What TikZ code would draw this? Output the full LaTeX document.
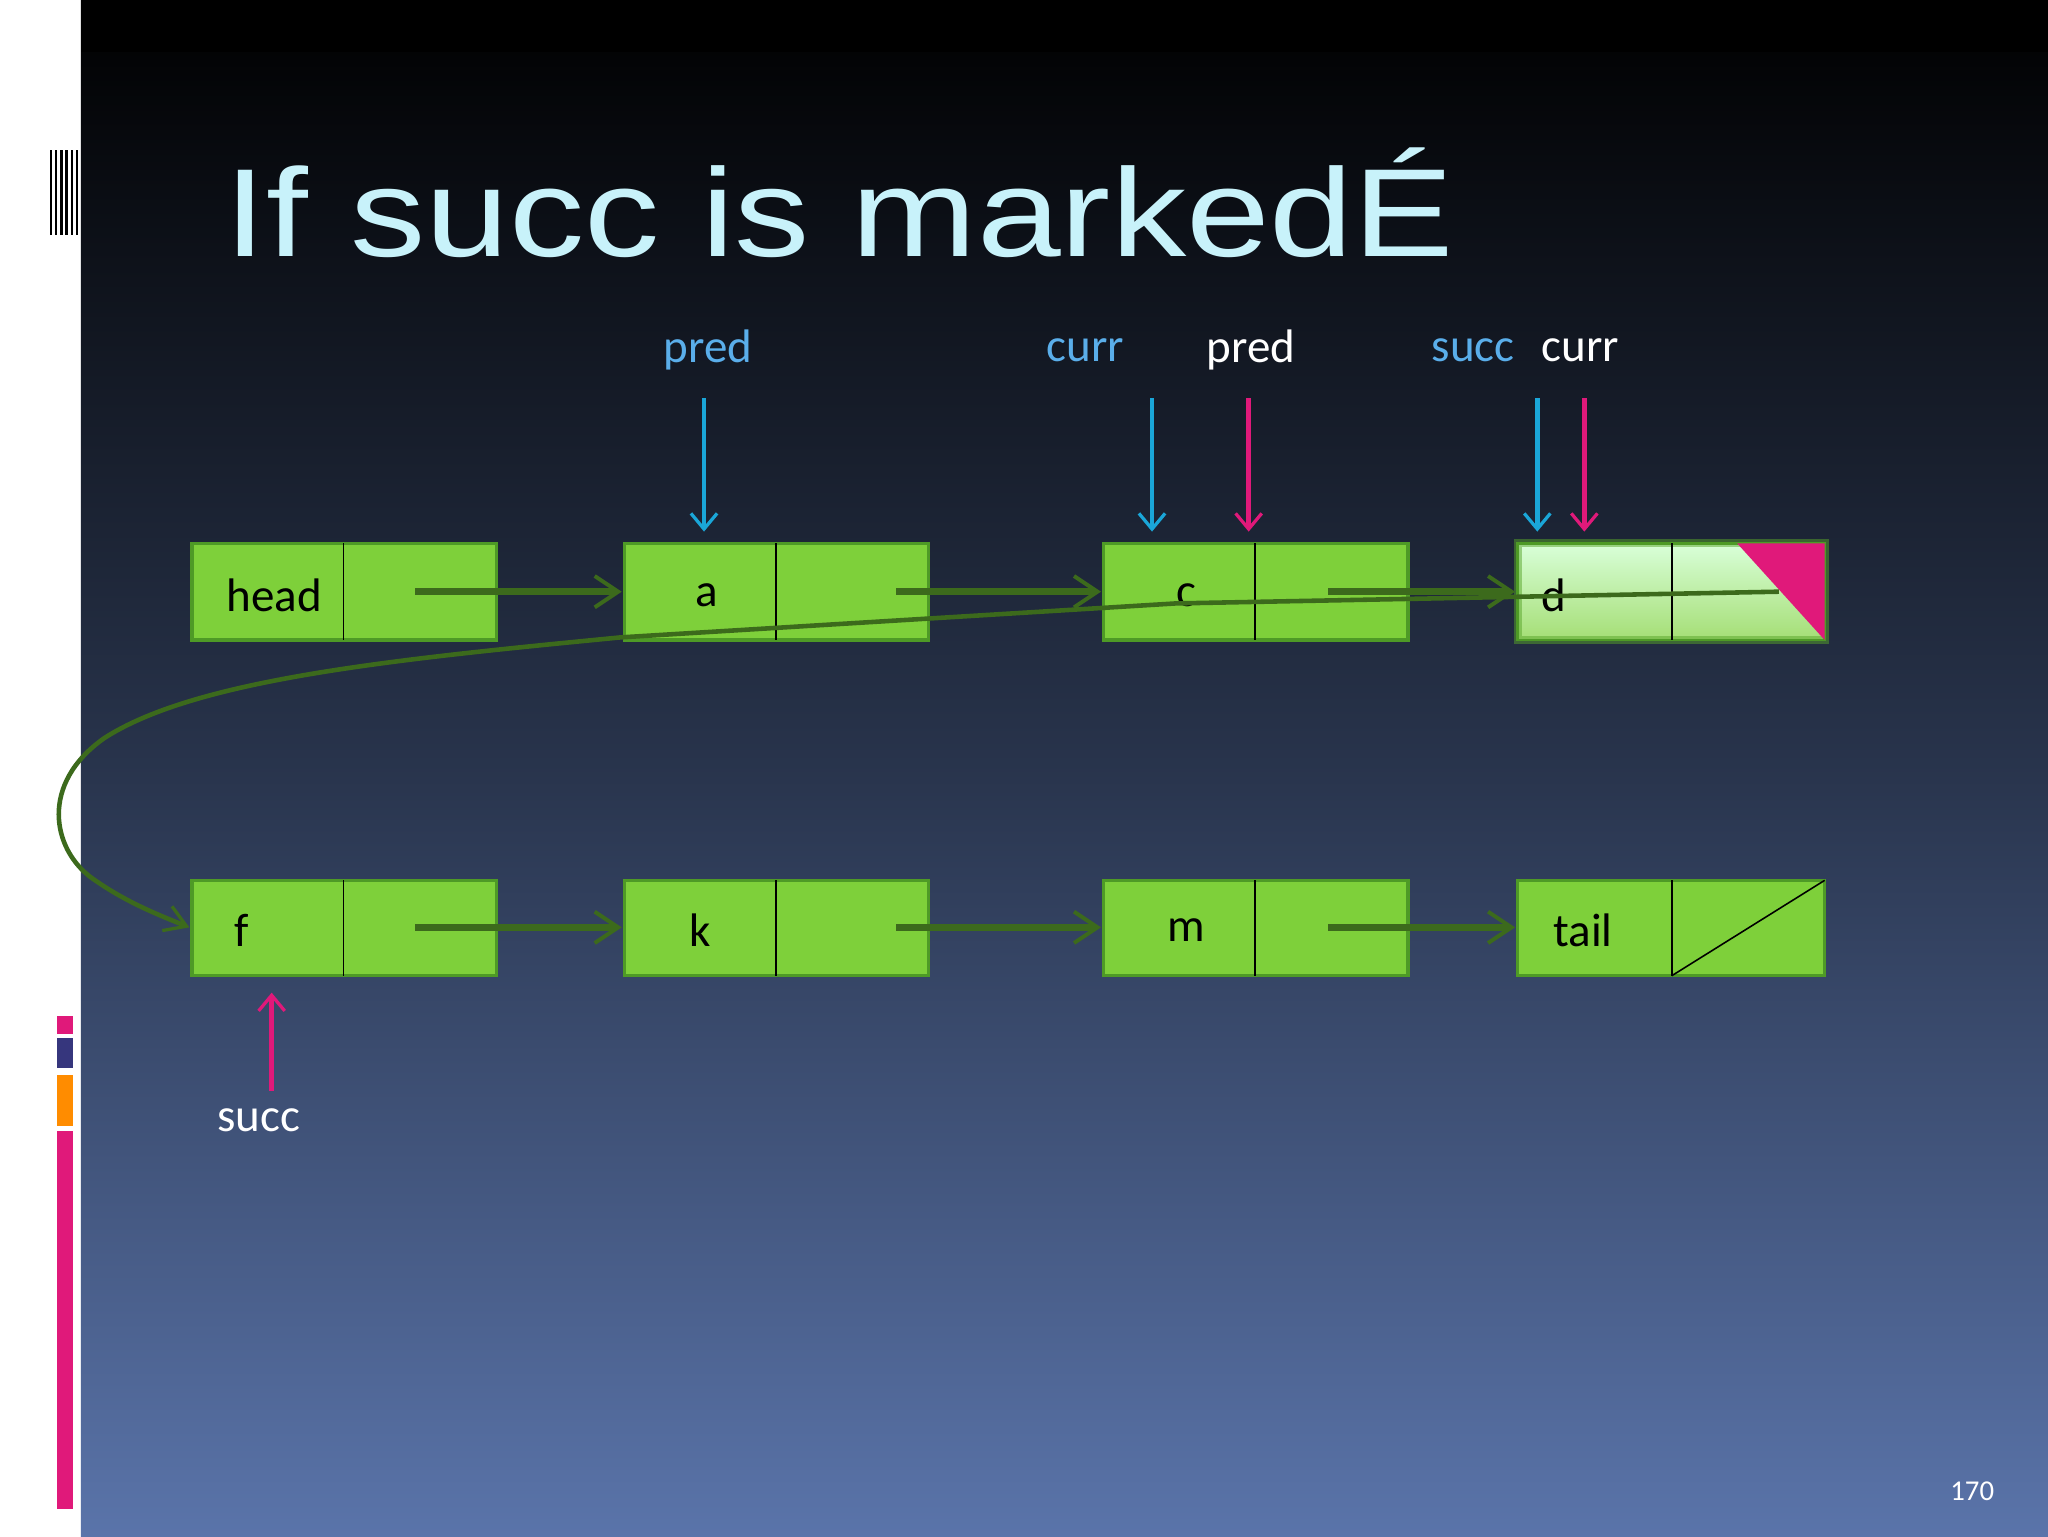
\documentclass[tikz,border=0pt]{standalone}
\usepackage{fontspec}
\setmainfont{Carlito}
\newfontfamily\titlefont{Liberation Sans}
\usetikzlibrary{arrows.meta}
\definecolor{ngreen}{HTML}{7ED03A}
\definecolor{nborder}{HTML}{4E9A26}
\definecolor{darr}{HTML}{3C6A1C}
\definecolor{lblue}{HTML}{5AAEEA}
\definecolor{cyanar}{HTML}{1AA6D8}
\definecolor{pinkar}{HTML}{E0197A}
\definecolor{ttl}{HTML}{C8F2FA}
\definecolor{bgtop}{HTML}{000000}
\definecolor{bgbot}{HTML}{5A74AA}
\tikzset{
  cell/.style={draw=nborder,line width=2.5pt,fill=ngreen},
  lbl/.style={font=\fontsize{36}{40}\selectfont,text=black},
  ptr/.style={darr,line width=5pt,-{Straight Barb[length=18pt,width=24pt,line width=3pt]}},
  vname/.style={font=\fontsize{36}{40}\selectfont},
  carr/.style={cyanar,line width=3.5pt,-{Straight Barb[length=12pt,width=20pt,line width=2.5pt]}},
  parr/.style={pinkar,line width=3.5pt,-{Straight Barb[length=12pt,width=20pt,line width=2.5pt]}},
}
\begin{document}
\begin{tikzpicture}[x=1pt,y=-1pt]
\useasboundingbox (0,0) rectangle (1568,1176);
\fill[white] (0,0) rectangle (62,1176);
\shade[top color=bgtop,bottom color=bgbot,middle color=bgtop!55!bgbot] (62,0) rectangle (1568,1176);
\fill[black] (62,0) rectangle (1568,40);
% left decor
\foreach \x in {38,42,46,50,54,58}{\fill[black] (\x,115) rectangle (\x+2,180);}
\fill[pinkar] (44,778) rectangle (56,792);
\fill[gray!60!blue!70!black] (44,795) rectangle (56,818);
\fill[orange!90!yellow] (44,823) rectangle (56,862);
\fill[pinkar] (44,866) rectangle (56,1155);
% title
\node[anchor=west,text=ttl,font=\titlefont\fontsize{96}{110}\selectfont,inner sep=0pt] (title) at (172,155) {\scalebox{1.2}[1]{If succ is markedÉ}};
% row 1
\foreach \n/\x/\t in {head/147/head,a/478/a,c/845/c}{
  \draw[cell] (\x,416) rectangle (\x+233,490);
  \draw[black,line width=1.5pt] (\x+116,416) -- (\x+116,490);
  \node[lbl] (\n) at (\x+58+5,456) {\t};
}
% d (marked)
\shade[top color=green!15!white,bottom color=ngreen!70!white] (1162,416) rectangle (1397,490);
\draw[nborder!80!ngreen,line width=6pt,opacity=0.5] (1162,416) rectangle (1397,490);
\draw[nborder,line width=2pt] (1162,416) rectangle (1397,490);
\fill[pinkar] (1330,416) -- (1397,416) -- (1397,490) -- cycle;
\draw[black,line width=1.5pt] (1280,416) -- (1280,490);
\node[lbl] (d) at (1190,456) {d};
% row 2
\foreach \n/\x/\t/\dx in {f/147/f/-20,k/478/k/0,m/845/m/5}{
  \draw[cell] (\x,674) rectangle (\x+233,747);
  \draw[black,line width=1.5pt] (\x+116,674) -- (\x+116,747);
  \node[lbl] (\n) at (\x+58+\dx,712) {\t};
}
\draw[cell] (1162,674) rectangle (1397,747);
\draw[black,line width=1.5pt] (1280,674) -- (1280,747);
\draw[black,line width=1.2pt] (1280,747) -- (1397,674);
\node[lbl] (tail) at (1212,712) {tail};
% pointers
\coordinate (h1) at (318,453); \coordinate (a0) at (476,453);
\coordinate (a1) at (686,453); \coordinate (c0) at (843,453);
\coordinate (c1) at (1017,453); \coordinate (d0) at (1160,453);
\draw[ptr] (h1) -- (a0);
\draw[ptr] (a1) -- (c0);
\draw[ptr] (c1) -- (d0);
\coordinate (f1) at (318,710); \coordinate (k0) at (476,710);
\coordinate (k1) at (686,710); \coordinate (m0) at (843,710);
\coordinate (m1) at (1017,710); \coordinate (t0) at (1160,710);
\draw[ptr] (f1) -- (k0);
\draw[ptr] (k1) -- (m0);
\draw[ptr] (m1) -- (t0);
\coordinate (dd) at (1362,453); \coordinate (f0) at (145,710);
\draw[darr,line width=3.5pt,-{Straight Barb[length=16pt,width=20pt,line width=2.5pt]}]
  (dd) -- (900,462) -- (475,488) .. controls (300,505) and (150,520) .. (80,565)
  .. controls (30,600) and (40,650) .. (70,672) .. controls (95,690) and (120,700) .. (f0);
% labels and arrows
\node[vname,text=lblue] (p1) at (542,268) {pred};
\node[vname,text=lblue] (c1l) at (831,268) {curr};
\node[vname,text=white] (p2) at (958,268) {pred};
\node[vname,text=lblue] (s1) at (1128,268) {succ};
\node[vname,text=white] (c2l) at (1210,268) {curr};
\draw[carr] (539,305) -- (539,407);
\draw[carr] (882,305) -- (882,407);
\draw[parr] (956,305) -- (956,407);
\draw[carr] (1177,305) -- (1177,407);
\draw[parr] (1213,305) -- (1213,407);
\draw[parr] (208,835) -- (208,760);
\node[vname,text=white] (s2) at (198,858) {succ};
\node[text=white,font=\fontsize{22}{24}\selectfont] (pg) at (1510,1142) {170};
\end{tikzpicture}
\end{document}
